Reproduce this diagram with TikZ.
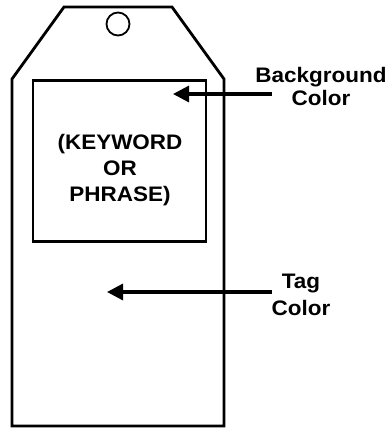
\documentclass[tikz,border=0pt]{standalone}
\usepackage{fontspec}
\newfontfamily\tagfont[FakeStretch=1.07]{Liberation Sans}
\usetikzlibrary{arrows.meta}

\begin{document}
\begin{tikzpicture}[x=1pt,y=-1pt,tag/.style={draw,line width=2.8pt,line join=miter},box/.style={draw,line width=2.3pt},hole/.style={draw,line width=1.8pt},pointer/.style={draw,line width=3.2pt,-{Triangle[length=16pt,width=16pt]}},label text/.style={font=\tagfont\bfseries\fontsize{21}{26}\selectfont,align=center,inner sep=0pt}]
  \useasboundingbox (0,0) rectangle (388,429);
  %tag
  \draw[tag] (64,7) -- (172,7) -- (224,79) -- (224,426) -- (12,426) -- (12,79) -- cycle;
  \node[hole,circle,minimum size=23pt,inner sep=0pt] (hole) at (118,24) {};
  %keyword box
  \node[box,minimum width=173pt,minimum height=161pt,inner sep=0pt] (box) at (119.5,161) {};
  \node[label text] (keyword) at (120,170.5) {(KEYWORD\\OR\\PHRASE)};
  %background
  \node[label text,font=\tagfont\bfseries\fontsize{21}{23}\selectfont] (background) at (321,86.5) {Background\\Color};
  \coordinate (background tail) at (272,94);
  \coordinate (background tip) at (173,94);
  \draw[pointer] (background tail) -- (background tip);
  %tag colour
  \node[label text,font=\tagfont\bfseries\fontsize{21}{27}\selectfont] (tagcolor) at (301,294.4) {Tag\\Color};
  \coordinate (tag tail) at (272,292);
  \coordinate (tag tip) at (107,292);
  \draw[pointer] (tag tail) -- (tag tip);
\end{tikzpicture}
\end{document}
